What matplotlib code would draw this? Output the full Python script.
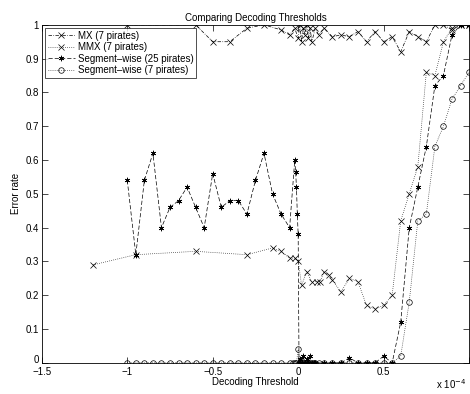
import matplotlib
matplotlib.use("Agg")
import matplotlib.pyplot as plt
import matplotlib.transforms as mtrans

plt.rcParams['font.family'] = ['Liberation Sans', 'DejaVu Sans']

# decoding thresholds are in units of 1e-4
mx_x = [-1.0, -0.6, -0.5, -0.4, -0.3, -0.2, -0.1, -0.05, -0.02, 0.0, 0.01, 0.02,
        0.03, 0.04, 0.05, 0.06, 0.07, 0.08, 0.1, 0.12, 0.15, 0.2, 0.25, 0.3, 0.35,
        0.4, 0.45, 0.5, 0.55, 0.6, 0.65, 0.7, 0.75, 0.8, 0.85, 0.9, 0.95, 1.0]
mx_y = [1.0, 1.0, 0.95, 0.95, 0.99, 1.0, 0.985, 0.97, 0.99, 0.96, 1.0, 0.95,
        0.99, 0.97, 1.0, 0.96, 0.99, 0.95, 0.99, 0.97, 0.99, 0.965, 0.97, 0.965, 0.98,
        0.95, 0.98, 0.95, 0.965, 0.92, 0.98, 0.965, 0.95, 1.0, 1.0, 0.985, 1.0, 1.0]

mmx_x = [-1.2, -0.95, -0.6, -0.3, -0.15, -0.1, -0.05, -0.02, 0.0, 0.02, 0.05, 0.08,
         0.11, 0.13, 0.15, 0.18, 0.2, 0.25, 0.3, 0.35, 0.4, 0.45, 0.5, 0.55, 0.6,
         0.65, 0.7, 0.75, 0.8, 0.85, 0.9, 0.95, 1.0]
mmx_y = [0.29, 0.32, 0.33, 0.32, 0.34, 0.33, 0.31, 0.31, 0.30, 0.23, 0.27, 0.24,
         0.24, 0.24, 0.27, 0.26, 0.245, 0.21, 0.25, 0.24, 0.17, 0.16, 0.17, 0.20, 0.42,
         0.50, 0.58, 0.86, 0.85, 0.95, 0.99, 1.0, 1.0]

s25_x = [-1.0, -0.95, -0.9, -0.85, -0.8, -0.75, -0.7, -0.65, -0.6, -0.55, -0.5,
         -0.45, -0.4, -0.35, -0.3, -0.25, -0.2, -0.15, -0.1, -0.05, -0.02, -0.015,
         -0.01, -0.005, 0.0, 0.005, 0.01, 0.02, 0.03, 0.04, 0.05, 0.06, 0.07, 0.08,
         0.09, 0.1, 0.15, 0.2, 0.25, 0.3, 0.35, 0.4, 0.45, 0.5, 0.55, 0.6, 0.65, 0.7,
         0.75, 0.8, 0.85, 0.9, 0.95, 1.0]
s25_y = [0.54, 0.32, 0.54, 0.62, 0.40, 0.46, 0.48, 0.52, 0.46, 0.40, 0.56,
         0.46, 0.48, 0.48, 0.44, 0.54, 0.62, 0.50, 0.44, 0.40, 0.60, 0.565,
         0.52, 0.44, 0.38, 0.0, 0.01, 0.0, 0.02, 0.0, 0.01, 0.0, 0.02, 0.0,
         0.0, 0.0, 0.0, 0.0, 0.0, 0.015, 0.0, 0.0, 0.0, 0.02, 0.0, 0.12, 0.40, 0.52,
         0.64, 0.82, 0.85, 0.97, 1.0, 1.0]

s7_x = [-1.0, -0.95, -0.9, -0.85, -0.8, -0.75, -0.7, -0.65, -0.6, -0.55, -0.5,
        -0.45, -0.4, -0.35, -0.3, -0.25, -0.2, -0.15, -0.1, -0.05, -0.03, -0.02,
        -0.01, 0.0, 0.01, 0.02, 0.03, 0.04, 0.05, 0.06, 0.07, 0.08, 0.09, 0.1,
        0.12, 0.15, 0.2, 0.25, 0.3, 0.35, 0.4, 0.45, 0.5, 0.55, 0.6, 0.65, 0.7,
        0.75, 0.8, 0.85, 0.9, 0.95, 1.0]
s7_y = [0.0, 0.0, 0.0, 0.0, 0.0, 0.0, 0.0, 0.0, 0.0, 0.0, 0.0,
        0.0, 0.0, 0.0, 0.0, 0.0, 0.0, 0.0, 0.0, 0.0, 0.0, 0.0,
        0.0, 0.04, 0.0, 0.0, 0.0, 0.0, 0.0, 0.0, 0.0, 0.0, 0.0, 0.0,
        0.0, 0.0, 0.0, 0.0, 0.0, 0.0, 0.0, 0.0, 0.0, 0.0, 0.02, 0.18, 0.42,
        0.44, 0.64, 0.70, 0.78, 0.82, 0.86]

labels = ['MX (7 pirates)', 'MMX (7 pirates)', 'Segment\u2013wise (25 pirates)',
          'Segment\u2013wise (7 pirates)']

fig = plt.figure(figsize=(4.7, 3.94), dpi=100)
ax = fig.add_axes([0.089, 0.079, 0.909, 0.858])

kw = dict(color='k', lw=0.5, ms=4, mew=0.5, mfc='none')
ax.plot(mx_x, mx_y, linestyle=(0, (5, 2, 1, 2)), marker='x', label=labels[0], **kw)
ax.plot(mmx_x, mmx_y, linestyle=(0, (1, 2)), marker='x', label=labels[1], **kw)
ax.plot(s25_x, s25_y, linestyle=(0, (6, 3)), marker=(6, 2, 0), label=labels[2], **kw)
ax.plot(s7_x, s7_y, linestyle=(0, (1, 2)), marker='o', label=labels[3], **kw)

ax.set_xlim(-1.5, 1.0)
ax.set_ylim(0, 1)
ax.set_xticks([-1.5, -1, -0.5, 0, 0.5, 1.0])
ax.set_xticklabels(['\u22121.5', '\u22121', '\u22120.5', '0', '0.5', ''])
ax.set_yticks([0, 0.1, 0.2, 0.3, 0.4, 0.5, 0.6, 0.7, 0.8, 0.9, 1])
ax.set_yticklabels(['0', '0.1', '0.2', '0.3', '0.4', '0.5', '0.6', '0.7', '0.8', '0.9', '1'])
ax.tick_params(direction='in', top=True, right=True, labelsize=7, length=4, width=0.5)
ax.tick_params(axis='x', pad=3)
ax.tick_params(axis='y', pad=2)
for s in ax.spines.values():
    s.set_linewidth(0.6)

# lift the "0" y label a touch so it sits clear of "-1.5"
zero_lbl = ax.get_yticklabels()[0]
zero_lbl.set_transform(zero_lbl.get_transform() +
                       mtrans.ScaledTranslation(0, 2.5 / 72, fig.dpi_scale_trans))

ax.set_title('Comparing Decoding Thresholds', fontsize=7, pad=3)
ax.set_xlabel('Decoding Threshold', fontsize=7, labelpad=0)
ax.set_ylabel('Error rate', fontsize=7, labelpad=3)
fig.text(0.928, 0.008, 'x 10$^{-4}$', fontsize=7, va='bottom', ha='left')

leg = ax.legend(loc='upper left', fontsize=7, frameon=True, fancybox=False,
                edgecolor='k', borderpad=0.3, labelspacing=0.15, handlelength=2.8,
                handletextpad=0.3, borderaxespad=0.3)
leg.get_frame().set_linewidth(0.6)

fig.savefig('out.png', dpi=100)
